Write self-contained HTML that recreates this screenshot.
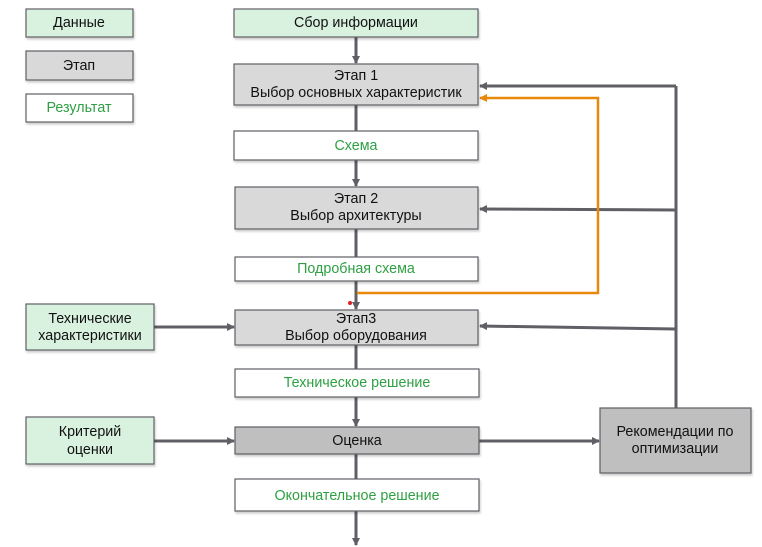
<!DOCTYPE html>
<html><head><meta charset="utf-8"><style>
html,body{margin:0;padding:0;background:#fff;}
svg{display:block;}
text{font-family:"Liberation Sans",Arial,sans-serif;font-size:14.3px;text-anchor:middle;dominant-baseline:central;fill:#111;}
.g{fill:#2ea043;}
</style></head><body>
<svg width="762" height="547" viewBox="0 0 762 547" xmlns="http://www.w3.org/2000/svg">
<defs>
<marker id="a" markerWidth="8" markerHeight="8" refX="7" refY="4" orient="auto" markerUnits="userSpaceOnUse"><path d="M0,0 L8,4 L0,8 Z" fill="#5f5f66"/></marker>
<marker id="o" markerWidth="8" markerHeight="8" refX="7" refY="4" orient="auto" markerUnits="userSpaceOnUse"><path d="M0,0 L8,4 L0,8 Z" fill="#e8890c"/></marker>
<filter id="s" x="-5%" y="-5%" width="115%" height="125%"><feDropShadow dx="1" dy="2" stdDeviation="1" flood-color="#000" flood-opacity="0.2"/></filter>
</defs>
<g stroke="#5f5f66" stroke-width="3" fill="none">
<line x1="356" y1="37" x2="356" y2="63" marker-end="url(#a)"/>
<line x1="356" y1="105" x2="356" y2="131"/>
<line x1="356" y1="160" x2="356" y2="186" marker-end="url(#a)"/>
<line x1="356" y1="229" x2="356" y2="257"/>
<line x1="356" y1="281" x2="356" y2="309" marker-end="url(#a)"/>
<line x1="356" y1="345" x2="356" y2="369"/>
<line x1="356" y1="397" x2="356" y2="426" marker-end="url(#a)"/>
<line x1="356" y1="454" x2="356" y2="479"/>
<line x1="356" y1="511" x2="356" y2="545" marker-end="url(#a)"/>
<line x1="154" y1="327" x2="234" y2="327" marker-end="url(#a)"/>
<line x1="154" y1="441" x2="234" y2="441" marker-end="url(#a)"/>
<line x1="479" y1="441" x2="599" y2="441" marker-end="url(#a)"/>
<line x1="676" y1="408" x2="676" y2="86"/>
<line x1="676" y1="86" x2="480" y2="86" marker-end="url(#a)"/>
<line x1="676" y1="210" x2="480" y2="209" marker-end="url(#a)"/>
<line x1="676" y1="329" x2="480" y2="326" marker-end="url(#a)"/>
</g>
<polyline points="357,293 598,293 598,98 480,98" stroke="#e8890c" stroke-width="2.5" fill="none" marker-end="url(#o)"/>
<circle cx="350" cy="303" r="2" fill="#e02020"/>
<g stroke="#5f5f66" stroke-width="1.2" filter="url(#s)">
<rect x="26" y="9" width="107" height="28" fill="#d9f2df"/>
<rect x="26" y="51" width="107" height="29" fill="#d9d9d9"/>
<rect x="26" y="94" width="107" height="28" fill="#fff"/>
<rect x="26" y="304" width="128" height="46" fill="#d9f2df"/>
<rect x="26" y="417" width="128" height="47" fill="#d9f2df"/>
<rect x="234" y="9" width="244" height="28" fill="#d9f2df"/>
<rect x="234" y="64" width="244" height="41" fill="#d9d9d9"/>
<rect x="234" y="131" width="244" height="29" fill="#fff"/>
<rect x="235" y="187" width="243" height="42" fill="#d9d9d9"/>
<rect x="235" y="257" width="243" height="24" fill="#fff"/>
<rect x="235" y="310" width="243" height="35" fill="#d9d9d9"/>
<rect x="235" y="369" width="244" height="28" fill="#fff"/>
<rect x="235" y="427" width="244" height="27" fill="#bfbfbf"/>
<rect x="235" y="479" width="244" height="32" fill="#fff"/>
<rect x="600" y="408" width="151" height="65" fill="#bfbfbf"/>
</g>
<text x="79" y="23">Данные</text>
<text x="79" y="66">Этап</text>
<text x="79" y="108" class="g">Результат</text>
<text x="90" y="319">Технические</text>
<text x="90" y="336">характеристики</text>
<text x="90" y="432">Критерий</text>
<text x="90" y="450">оценки</text>
<text x="356" y="23">Сбор информации</text>
<text x="356" y="76">Этап 1</text>
<text x="356" y="93">Выбор основных характеристик</text>
<text x="356" y="146" class="g">Схема</text>
<text x="356" y="199">Этап 2</text>
<text x="356" y="216">Выбор архитектуры</text>
<text x="356" y="269" class="g">Подробная схема</text>
<text x="356" y="319">Этап3</text>
<text x="356" y="336">Выбор оборудования</text>
<text x="357" y="383" class="g">Техническое решение</text>
<text x="357" y="441">Оценка</text>
<text x="357" y="496" class="g">Окончательное решение</text>
<text x="675" y="432">Рекомендации по</text>
<text x="675" y="449">оптимизации</text>
</svg>
</body></html>
